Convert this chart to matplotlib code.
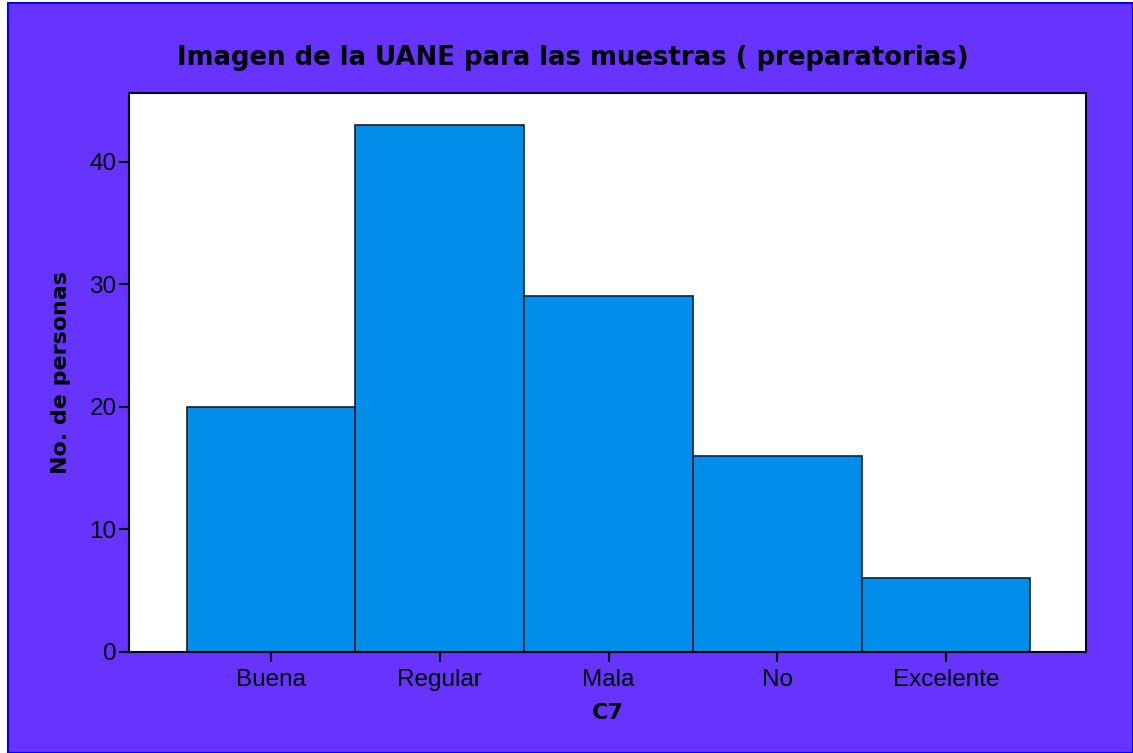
import matplotlib.pyplot as plt
from matplotlib.patches import Rectangle

plt.rcParams['font.family'] = ['Liberation Sans', 'DejaVu Sans']

categories = ['Buena', 'Regular', 'Mala', 'No', 'Excelente']
counts = [20, 43, 29, 16, 6]

title = 'Imagen de la UANE para las muestras ( preparatorias)'
xlabel = 'C7'
ylabel = 'No. de personas'

purple = '#6633FF'
bar_color = '#018DEA'

fig = plt.figure(figsize=(11.33, 7.53), dpi=100, facecolor='white')

# purple frame like the original export, slightly offset from the corner
frame = Rectangle((8 / 1133, 0), 1 - 8 / 1133, 1 - 3 / 753, transform=fig.transFigure,
                  facecolor=purple, edgecolor='#0000FF', linewidth=1.5, zorder=-10)
fig.patches.append(frame)

ax = fig.add_axes([129 / 1133, 1 - 652 / 753, (1086 - 129) / 1133, (652 - 93) / 753])
ax.set_facecolor('white')

pos = list(range(1, len(categories) + 1))
ax.bar(pos, counts, width=1.0, color=bar_color, edgecolor='#102030', linewidth=1.2)

ax.set_xlim(0.158, 5.83)
ax.set_ylim(0, 45.6)
ax.set_xticks(pos)
ax.set_xticklabels(categories)
ax.set_yticks([0, 10, 20, 30, 40])

for s in ax.spines.values():
    s.set_linewidth(1.5)
    s.set_color('black')
ax.tick_params(axis='both', labelsize=17.5, length=7, width=1.5, color='black')
ax.tick_params(axis='y', pad=2)
ax.tick_params(axis='x', pad=5)

# bold labels in the heavier Verdana-like face
bold = ['DejaVu Sans']
fig.text(573 / 1133, 1 - 58 / 753, title, fontsize=18.7, fontweight='bold',
         family=bold, ha='center', va='center')
ax.set_xlabel(xlabel, fontsize=16, fontweight='bold', family=bold, labelpad=9)
ax.set_ylabel(ylabel, fontsize=15.9, fontweight='bold', family=bold, labelpad=13)

fig.savefig('out.png', dpi=100, facecolor='white')
